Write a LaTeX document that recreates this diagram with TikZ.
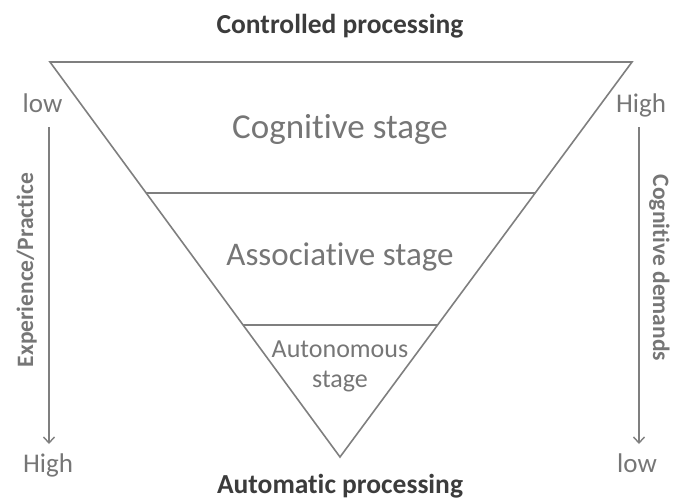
\documentclass[tikz,border=0pt]{standalone}
\usepackage{fontspec}
\setmainfont{Carlito}[Ligatures=NoCommon]
\usetikzlibrary{arrows.meta,calc}
\definecolor{linegray}{HTML}{7F7F7F}
\definecolor{textgray}{HTML}{767676}
\definecolor{darktext}{HTML}{3C3C3C}
\tikzset{
  edge/.style={draw=linegray, line width=1.6pt, line join=miter},
  sidearrow/.style={draw=linegray, line width=1.4pt, -{Straight Barb[length=6pt,width=11pt]}},
  title/.style={font=\fontsize{27.5}{30}\selectfont\bfseries, text=darktext, anchor=base, inner sep=0pt},
  sidelabel/.style={font=\fontsize{23.5}{27}\selectfont\bfseries, text=textgray, anchor=base, inner sep=0pt},
  level/.style={font=\fontsize{27}{30}\selectfont, text=textgray, anchor=base, inner sep=0pt},
  stagebig/.style={font=\fontsize{35}{40}\selectfont, text=textgray, anchor=base, inner sep=0pt},
  stagemid/.style={font=\fontsize{33}{38}\selectfont, text=textgray, anchor=base, inner sep=0pt},
  stagesmall/.style={font=\fontsize{26}{30}\selectfont, text=textgray, anchor=base, inner sep=0pt},
}
\begin{document}
\begin{tikzpicture}[x=1pt,y=-1pt]
\useasboundingbox (0,0) rectangle (673,501);
\coordinate (tl) at (50,62);
\coordinate (tr) at (632,62);
\coordinate (bt) at (340,457);
\draw[edge] (tl) -- (tr) -- (bt) -- cycle;
\coordinate (l1) at ($(tl)!0.3316!(bt)$);
\coordinate (r1) at ($(tr)!0.3316!(bt)$);
\coordinate (l2) at ($(tl)!0.6658!(bt)$);
\coordinate (r2) at ($(tr)!0.6658!(bt)$);
\draw[edge] (l1) -- (r1);
\draw[edge] (l2) -- (r2);
\node[stagebig] (cog) at (340,138) {Cognitive stage};
\node[stagemid] (assoc) at (340,265) {Associative stage};
\node[stagesmall] (auto1) at (340,357) {Autonomous};
\node[stagesmall] (auto2) at (340,387) {stage};
\node[title] (ctrl) at (340,33) {Controlled processing};
\node[title] (autop) at (340,493) {Automatic processing};
\node[level] (lowL) at (42.5,112) {low};
\node[level] (highL) at (48,472) {High};
\node[level] (highR) at (641,112) {High};
\node[level] (lowR) at (637,472) {low};
\coordinate (la1) at (49,127);
\coordinate (la2) at (49,444);
\coordinate (ra1) at (639,127);
\coordinate (ra2) at (639,444);
\draw[sidearrow] (la1) -- (la2);
\draw[sidearrow] (ra1) -- (ra2);
\node[sidelabel, rotate=90] (exp) at (33,270) {Experience/Practice};
\node[sidelabel, rotate=-90] (dem) at (653,268) {Cognitive demands};
\end{tikzpicture}
\end{document}
